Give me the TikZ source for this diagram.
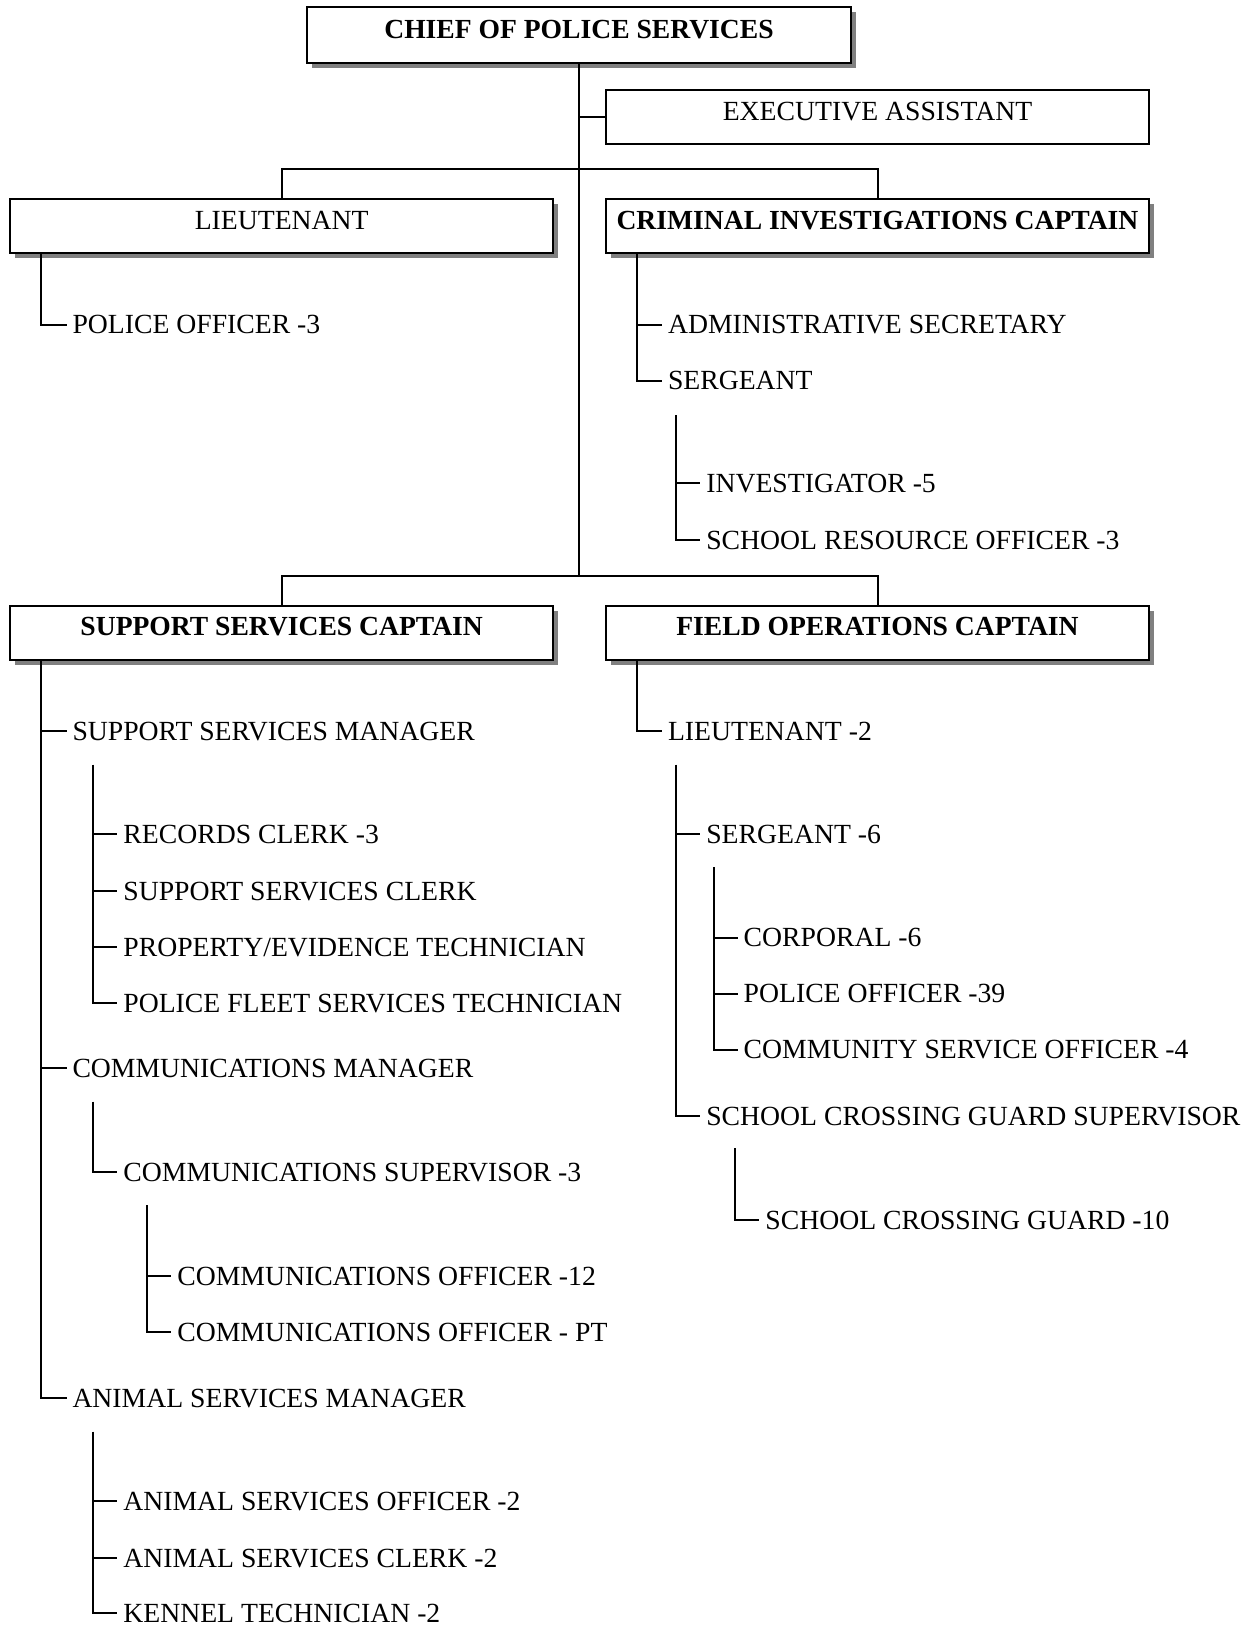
\documentclass[tikz,border=0pt]{standalone}
\usepackage{fontspec}
\setmainfont{Liberation Serif}
\usetikzlibrary{shadows}
\begin{document}
\begin{tikzpicture}[x=1pt,y=-1pt,line width=2pt,
  box/.style={draw=black,fill=white,line width=2pt,anchor=north,inner sep=0pt,
    minimum width=543pt,text height=30pt,text depth=24pt,
    font=\fontsize{27.7}{30}\selectfont},
  shbox/.style={box,drop shadow={shadow xshift=5pt,shadow yshift=-5pt,fill=black!50,opacity=1}},
  bold/.style={font=\fontsize{27.6}{30}\selectfont\bfseries},
  item/.style={anchor=west,inner xsep=5pt,inner ysep=0pt,text height=18.3pt,text depth=0pt,
    font=\fontsize{27.7}{30}\selectfont}]
\useasboundingbox (0,0) rectangle (1250,1626);

% boxes
\node[shbox,bold,minimum width=544pt,text height=31pt,text depth=25pt] (chief) at (579,6) {CHIEF OF POLICE SERVICES};
\node[box] (exec) at (877.5,89) {EXECUTIVE ASSISTANT};
\node[shbox] (lt) at (281.7,198) {LIEUTENANT};
\node[shbox,bold] (ci) at (877.5,198) {CRIMINAL INVESTIGATIONS CAPTAIN};
\node[shbox,bold] (ssc) at (281.7,604.7) {SUPPORT SERVICES CAPTAIN};
\node[shbox,bold] (foc) at (877.5,604.7) {FIELD OPERATIONS CAPTAIN};

% top structure
\coordinate (mainbot) at (579,575.7);
\draw (chief.south) -- (mainbot);
\draw (chief.south |- exec.west) -- (exec.west);
\draw (lt.north) -- ++(0,-29) -| (ci.north);
\draw (ssc.north) -- ++(0,-29) -| (foc.north);

% Lieutenant
\node[item] (po3) at (66.5,324.7) {POLICE OFFICER -3};
\draw ([xshift=32pt]lt.south west) |- (po3.west);

% Criminal investigations
\node[item] (adm) at (662,324.7) {ADMINISTRATIVE SECRETARY};
\node[item] (sgt) at (662,380.7) {SERGEANT};
\draw ([xshift=32pt]ci.south west) |- (sgt.west);
\draw (adm.west -| sgt.west) ++(-24,0) -- (adm.west);
\coordinate (sgtv) at (676.3,415);
\node[item] (inv) at (700.3,483.4) {INVESTIGATOR -5};
\node[item] (sro) at (700.3,540.4) {SCHOOL RESOURCE OFFICER -3};
\draw (sgtv) |- (sro.west);
\draw (inv.west -| sgtv) -- (inv.west);

% Support services
\node[item] (ssm) at (66.5,731.3) {SUPPORT SERVICES MANAGER};
\node[item] (cm) at (66.5,1068.4) {COMMUNICATIONS MANAGER};
\node[item] (asm) at (66.5,1398.3) {ANIMAL SERVICES MANAGER};
\coordinate (sscv) at ([xshift=32pt]ssc.south west);
\draw (sscv) |- (asm.west);
\draw (ssm.west -| sscv) -- (ssm.west);
\draw (cm.west -| sscv) -- (cm.west);

\coordinate (ssmv) at (93.4,764.5);
\node[item] (rc) at (117.4,834) {RECORDS CLERK -3};
\node[item] (sscl) at (117.4,891) {SUPPORT SERVICES CLERK};
\node[item] (pet) at (117.4,947) {PROPERTY/EVIDENCE TECHNICIAN};
\node[item] (pfst) at (117.4,1003) {POLICE FLEET SERVICES TECHNICIAN};
\draw (ssmv) |- (pfst.west);
\draw (rc.west -| ssmv) -- (rc.west);
\draw (sscl.west -| ssmv) -- (sscl.west);
\draw (pet.west -| ssmv) -- (pet.west);

\coordinate (cmv) at (93.4,1101.6);
\node[item] (cs) at (117.4,1172.2) {COMMUNICATIONS SUPERVISOR -3};
\draw (cmv) |- (cs.west);

\coordinate (csv) at (147.3,1205.3);
\node[item] (co12) at (171.3,1276) {COMMUNICATIONS OFFICER -12};
\node[item] (copt) at (171.3,1332) {COMMUNICATIONS OFFICER - PT};
\draw (csv) |- (copt.west);
\draw (co12.west -| csv) -- (co12.west);

\coordinate (asmv) at (93.4,1431.5);
\node[item] (aso) at (117.4,1501) {ANIMAL SERVICES OFFICER -2};
\node[item] (asc) at (117.4,1558) {ANIMAL SERVICES CLERK -2};
\node[item] (kt) at (117.4,1613) {KENNEL TECHNICIAN -2};
\draw (asmv) |- (kt.west);
\draw (aso.west -| asmv) -- (aso.west);
\draw (asc.west -| asmv) -- (asc.west);

% Field operations
\node[item] (lt2) at (662,731.3) {LIEUTENANT -2};
\draw ([xshift=32pt]foc.south west) |- (lt2.west);

\coordinate (lt2v) at (676.3,764.5);
\node[item] (sgt6) at (700.3,834) {SERGEANT -6};
\node[item] (scgs) at (700.3,1116) {SCHOOL CROSSING GUARD SUPERVISOR};
\draw (lt2v) |- (scgs.west);
\draw (sgt6.west -| lt2v) -- (sgt6.west);

\coordinate (sgt6v) at (713.7,867);
\node[item] (cpl) at (737.7,937.7) {CORPORAL -6};
\node[item] (po39) at (737.7,993.7) {POLICE OFFICER -39};
\node[item] (cso) at (737.7,1049.8) {COMMUNITY SERVICE OFFICER -4};
\draw (sgt6v) |- (cso.west);
\draw (cpl.west -| sgt6v) -- (cpl.west);
\draw (po39.west -| sgt6v) -- (po39.west);

\coordinate (scgsv) at (735.4,1148.3);
\node[item] (scg) at (759.4,1219.9) {SCHOOL CROSSING GUARD -10};
\draw (scgsv) |- (scg.west);
\end{tikzpicture}
\end{document}
